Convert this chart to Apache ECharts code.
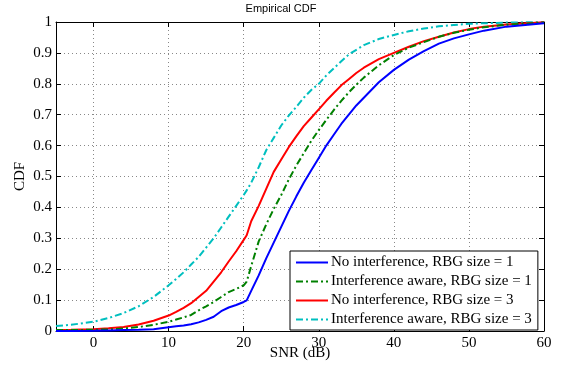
<!DOCTYPE html>
<html><head><meta charset="utf-8">
<script src="https://cdn.jsdelivr.net/npm/echarts@6/dist/echarts.min.js"></script>
<style>html,body{margin:0;padding:0;background:#fff}#c{width:562px;height:368px}</style>
</head><body><div id="c"></div>
<script>
const snr = [-5,-3,0,2,4,6,8,10,11,12,13,14,15,16,17,18,19,20,20.4,21,22,23,24,25,26,27,28,29,30,31,32,33,34,35,36,38,40,42,44,46,48,50,52,55,60];
const noIntRbg1 = [0,0,0.001,0.002,0.003,0.004,0.006,0.012,0.015,0.018,0.022,0.028,0.036,0.046,0.064,0.076,0.084,0.094,0.099,0.13,0.18,0.235,0.286,0.337,0.388,0.435,0.48,0.52,0.56,0.60,0.635,0.67,0.70,0.73,0.755,0.805,0.845,0.878,0.906,0.93,0.947,0.96,0.972,0.985,0.996];
const intAwareRbg1 = [0.003,0.003,0.004,0.005,0.008,0.013,0.02,0.03,0.037,0.044,0.052,0.067,0.08,0.094,0.11,0.126,0.136,0.148,0.16,0.21,0.29,0.345,0.395,0.44,0.49,0.535,0.575,0.615,0.65,0.683,0.715,0.745,0.772,0.797,0.82,0.86,0.893,0.917,0.935,0.952,0.965,0.975,0.983,0.991,0.998];
const noIntRbg3 = [0.003,0.004,0.006,0.009,0.013,0.021,0.033,0.05,0.062,0.075,0.09,0.11,0.13,0.16,0.19,0.225,0.258,0.295,0.31,0.355,0.405,0.46,0.515,0.555,0.595,0.63,0.663,0.69,0.717,0.745,0.77,0.795,0.815,0.835,0.852,0.88,0.9,0.92,0.938,0.952,0.966,0.977,0.985,0.992,0.999];
const intAwareRbg3 = [0.016,0.02,0.03,0.042,0.058,0.08,0.11,0.148,0.168,0.19,0.215,0.24,0.27,0.3,0.335,0.37,0.405,0.44,0.455,0.48,0.53,0.585,0.625,0.665,0.697,0.725,0.755,0.78,0.80,0.827,0.85,0.873,0.895,0.91,0.925,0.945,0.958,0.97,0.979,0.986,0.99,0.994,0.996,0.998,1];
const seriesNames = ['No interference, RBG size = 1','Interference aware, RBG size = 1','No interference, RBG size = 3','Interference aware, RBG size = 3'];
const xTickValues = [0,10,20,30,40,50,60];
const xRange = [-5,60];
const yTicks = [0,1,0.1];

const serif = '"Liberation Serif","DejaVu Serif",serif';
const pair = ys => snr.map((x,i)=>[x,ys[i]]);
const dashDot = [7,3,2,3];
const styles = [
  {color:'#0000ff', type:'solid'},
  {color:'#008000', type:dashDot},
  {color:'#ff0000', type:'solid'},
  {color:'#00bfbf', type:dashDot}
];
const vals = [noIntRbg1,intAwareRbg1,noIntRbg3,intAwareRbg3];
const chart = echarts.init(document.getElementById('c'),null,{renderer:'canvas'});
const tickStyle = {show:true, inside:true, length:5, lineStyle:{color:'#000'}};
const axisLine = {show:true, onZero:false, lineStyle:{color:'#000', width:1}};
const split = {show:true, lineStyle:{color:'#888', type:[1,3], width:1}};
chart.setOption({
  animation:false,
  title:{text:'Empirical CDF', left:'center', top:-2, textStyle:{fontFamily:'"Liberation Sans",Arial,sans-serif', fontSize:11, fontWeight:'normal', color:'#000'}},
  grid:{left:56, right:18, top:22, bottom:37, containLabel:false, outerBoundsMode:'none'},
  xAxis:[
    {type:'value', min:xRange[0], max:xRange[1], name:'SNR (dB)', nameLocation:'middle', nameGap:15, nameMoveOverlap:false,
     nameTextStyle:{fontFamily:serif, fontSize:15, color:'#000'},
     axisLine:axisLine, axisTick:Object.assign({customValues:xTickValues}, tickStyle), splitLine:split,
     axisLabel:{fontFamily:serif, fontSize:15, color:'#000', margin:5, customValues:xTickValues}},
    {type:'value', position:'top', min:xRange[0], max:xRange[1],
     axisLine:axisLine, axisTick:Object.assign({customValues:xTickValues}, tickStyle), splitLine:{show:false}, axisLabel:{show:false}}
  ],
  yAxis:[
    {type:'value', min:yTicks[0], max:yTicks[1], interval:yTicks[2], name:'CDF', nameLocation:'middle', nameGap:28, nameRotate:90, nameMoveOverlap:false,
     nameTextStyle:{fontFamily:serif, fontSize:15, color:'#000'},
     axisLine:axisLine, axisTick:tickStyle, splitLine:split,
     axisLabel:{fontFamily:serif, fontSize:15, color:'#000', margin:4, formatter:v=>String(Math.round(v*10)/10)}},
    {type:'value', position:'right', min:yTicks[0], max:yTicks[1], interval:yTicks[2],
     axisLine:axisLine, axisTick:tickStyle, splitLine:{show:false}, axisLabel:{show:false}}
  ],
  legend:{orient:'vertical', left:290, top:251, itemWidth:32, itemHeight:14, itemGap:4,
    padding:[4,6,3,5], borderColor:'#000', borderWidth:1, backgroundColor:'#fff',
    itemStyle:{opacity:0},
    textStyle:{fontFamily:serif, fontSize:15, color:'#000', padding:[0,0,0,-2]},
    data:seriesNames},
  series: vals.map((v,i)=>({
    name:seriesNames[i], type:'line', data:pair(v), symbol:'none', showSymbol:false, smooth:false,
    lineStyle:{color:styles[i].color, type:styles[i].type, width:2}, itemStyle:{color:styles[i].color},
    z: 4-i
  }))
});
</script></body></html>
